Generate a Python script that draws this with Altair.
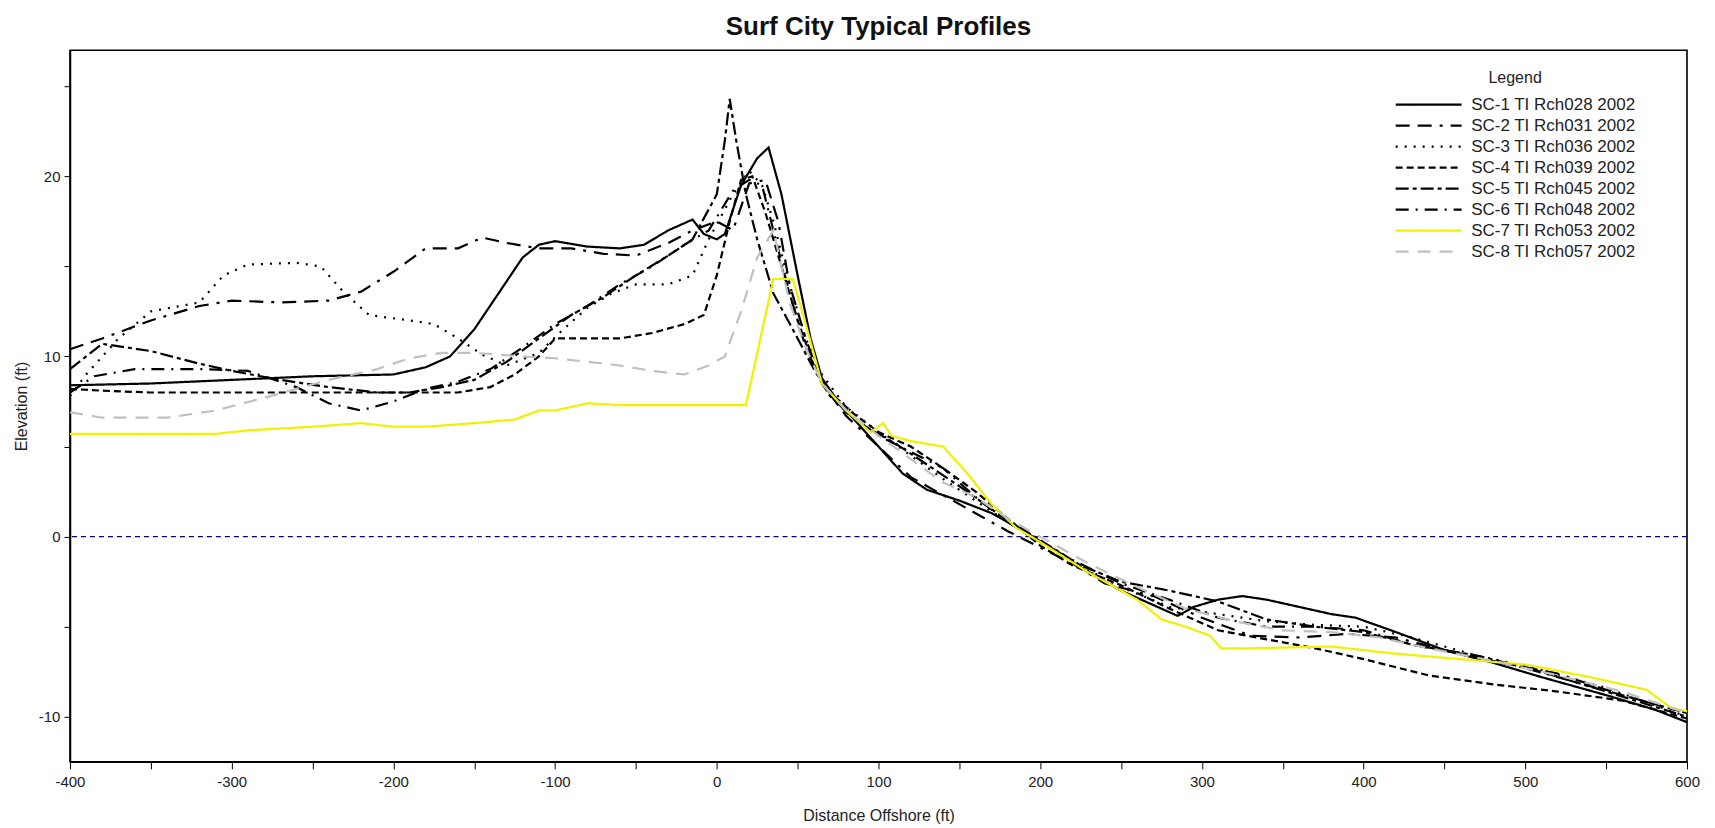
import altair as alt
import pandas as pd

SERIES = [
    "SC-1 TI Rch028 2002", "SC-2 TI Rch031 2002", "SC-3 TI Rch036 2002",
    "SC-4 TI Rch039 2002", "SC-5 TI Rch045 2002", "SC-6 TI Rch048 2002",
    "SC-7 TI Rch053 2002", "SC-8 TI Rch057 2002",
]
COLORS = ["#000000", "#000000", "#000000", "#000000", "#000000", "#000000", "#f0f000", "#c0c0c0"]
DASHES = [[1, 0], [14, 8, 14, 8, 3, 8], [2, 7], [7, 4], [13, 4, 4, 4], [13, 7, 2, 7], [1, 0], [13, 9]]

SC1_X = [-400, -350, -300, -250, -200, -180, -165, -150, -135, -120, -110, -100, -80, -60, -45, -30, -20, -15, -8, 0, 5, 15, 25, 32, 40, 50, 58, 65, 75, 90, 100, 115, 130, 150, 170, 190, 210, 230, 250, 270, 285, 295, 310, 325, 340, 360, 380, 395, 420, 450, 480, 510, 550, 580, 600]
SC1_Y = [8.4, 8.5, 8.7, 8.9, 9.0, 9.4, 10.0, 11.5, 13.5, 15.5, 16.2, 16.4, 16.1, 16.0, 16.2, 17.0, 17.4, 17.6, 16.8, 16.5, 16.8, 19.5, 21.0, 21.6, 19.0, 14.5, 11.0, 8.8, 7.5, 6.0, 5.0, 3.5, 2.6, 2.0, 1.3, 0.3, -0.8, -2.0, -3.0, -3.8, -4.4, -3.9, -3.5, -3.3, -3.5, -3.9, -4.3, -4.5, -5.3, -6.3, -7.0, -7.8, -8.8, -9.6, -10.3]

SC2_X = [-400, -380, -350, -320, -300, -270, -240, -220, -200, -180, -160, -145, -130, -110, -90, -70, -50, -30, -15, 0, 10, 20, 30, 38, 45, 55, 65, 80, 100, 120, 140, 160, 180, 200, 220, 240, 270, 300, 330, 360, 390, 420, 450, 480, 520, 560, 600]
SC2_Y = [10.4, 11.0, 12.0, 12.8, 13.1, 13.0, 13.1, 13.6, 14.7, 16.0, 16.0, 16.6, 16.3, 16.0, 16.0, 15.7, 15.6, 16.3, 17.0, 17.5, 17.0, 19.6, 19.8, 17.5, 14.0, 11.0, 8.5, 6.7, 5.0, 3.3, 2.3, 1.3, 0.3, -0.6, -1.5, -2.6, -3.3, -4.5, -5.5, -5.6, -5.4, -5.6, -6.3, -6.9, -7.6, -8.8, -9.8]

SC3_X = [-400, -390, -370, -350, -320, -305, -290, -260, -245, -230, -215, -190, -175, -160, -145, -130, -110, -95, -80, -65, -50, -30, -15, -5, 10, 20, 28, 35, 45, 55, 65, 80, 100, 120, 140, 160, 180, 200, 220, 250, 280, 310, 340, 370, 400, 430, 470, 510, 550, 600]
SC3_Y = [7.8, 9.0, 11.0, 12.5, 13.0, 14.5, 15.1, 15.2, 15.0, 13.5, 12.3, 12.0, 11.8, 11.0, 10.1, 9.5, 10.2, 11.5, 12.7, 13.5, 14.0, 14.0, 14.5, 16.5, 19.0, 20.3, 19.5, 17.5, 14.0, 11.0, 9.0, 7.2, 5.8, 4.5, 3.2, 2.0, 0.8, -0.3, -1.4, -2.8, -3.9, -4.3, -4.7, -4.9, -5.0, -5.6, -6.6, -7.4, -8.4, -10.0]

SC4_X = [-400, -380, -350, -300, -250, -200, -160, -140, -125, -110, -100, -80, -60, -40, -20, -8, 0, 8, 15, 22, 30, 40, 50, 60, 70, 85, 100, 120, 140, 160, 180, 200, 220, 250, 280, 310, 340, 370, 400, 440, 480, 520, 560, 600]
SC4_Y = [8.2, 8.1, 8.0, 8.0, 8.0, 8.0, 8.0, 8.3, 9.0, 10.0, 11.0, 11.0, 11.0, 11.3, 11.8, 12.3, 14.5, 17.5, 19.8, 20.0, 18.0, 15.0, 12.0, 9.5, 8.0, 6.8, 5.8, 5.0, 3.8, 2.5, 1.0, -0.5, -1.6, -2.7, -4.0, -5.2, -5.7, -6.2, -6.8, -7.7, -8.2, -8.6, -9.1, -10.1]

SC5_X = [-400, -380, -350, -320, -300, -270, -240, -210, -190, -170, -150, -130, -110, -90, -70, -50, -30, -15, 0, 5, 8, 12, 18, 25, 35, 50, 60, 70, 90, 110, 130, 150, 175, 200, 225, 250, 280, 310, 340, 370, 400, 430, 470, 510, 550, 600]
SC5_Y = [9.3, 10.7, 10.3, 9.6, 9.2, 8.7, 8.3, 8.0, 8.0, 8.3, 8.7, 9.7, 11.0, 12.3, 13.3, 14.5, 15.6, 16.5, 19.0, 22.0, 24.3, 22.0, 19.0, 16.5, 13.5, 11.0, 9.3, 7.8, 6.2, 5.2, 4.0, 2.8, 1.2, -0.2, -1.6, -2.5, -3.0, -3.6, -4.6, -5.0, -5.3, -6.0, -6.6, -7.5, -8.6, -10.0]

SC6_X = [-400, -385, -360, -320, -290, -260, -240, -220, -200, -180, -160, -140, -120, -100, -80, -60, -40, -20, -5, 10, 20, 28, 35, 45, 55, 65, 80, 100, 120, 140, 160, 180, 200, 220, 250, 280, 310, 340, 370, 400, 430, 460, 500, 540, 600]
SC6_Y = [8.0, 8.9, 9.3, 9.3, 9.2, 8.3, 7.4, 7.0, 7.5, 8.2, 8.6, 9.3, 10.5, 11.8, 12.8, 14.0, 15.0, 16.2, 17.0, 19.2, 19.8, 19.5, 17.0, 13.5, 10.5, 8.5, 6.9, 5.6, 4.7, 3.8, 2.2, 0.8, -0.3, -1.3, -2.6, -3.5, -4.5, -5.0, -5.0, -5.2, -6.0, -6.5, -7.3, -8.3, -9.8]

SC7_X = [-400, -310, -290, -250, -220, -200, -180, -150, -125, -110, -100, -90, -80, -60, 18, 35, 47, 55, 65, 80, 95, 103, 108, 120, 140, 155, 170, 185, 200, 230, 260, 275, 290, 305, 312, 330, 380, 420, 460, 500, 540, 575, 590, 600]
SC7_Y = [5.7, 5.7, 5.9, 6.1, 6.3, 6.1, 6.1, 6.3, 6.5, 7.0, 7.0, 7.2, 7.4, 7.3, 7.3, 14.3, 14.3, 11.8, 8.5, 7.0, 5.8, 6.3, 5.6, 5.3, 5.0, 3.5, 1.8, 0.5, -0.3, -2.0, -3.5, -4.6, -5.0, -5.5, -6.2, -6.2, -6.1, -6.5, -6.8, -7.1, -7.8, -8.5, -9.5, -9.7]

SC8_X = [-400, -380, -340, -310, -280, -260, -240, -210, -190, -170, -150, -120, -100, -80, -60, -40, -20, -5, 5, 15, 25, 35, 45, 55, 65, 80, 100, 120, 140, 160, 180, 200, 230, 260, 290, 320, 350, 380, 410, 440, 480, 520, 560, 600]
SC8_Y = [6.9, 6.6, 6.6, 7.0, 7.7, 8.2, 8.7, 9.3, 9.9, 10.2, 10.2, 10.0, 9.9, 9.7, 9.5, 9.2, 9.0, 9.5, 10.0, 12.5, 15.5, 17.0, 13.0, 10.5, 8.5, 7.0, 5.6, 4.3, 3.0, 2.2, 1.0, 0.0, -1.5, -2.8, -4.0, -4.7, -5.2, -5.3, -5.6, -6.2, -6.9, -7.7, -8.6, -9.8]

X_LISTS = [SC1_X, SC2_X, SC3_X, SC4_X, SC5_X, SC6_X, SC7_X, SC8_X]
Y_LISTS = [SC1_Y, SC2_Y, SC3_Y, SC4_Y, SC5_Y, SC6_Y, SC7_Y, SC8_Y]

rows = []
for i, (name, xs, ys) in enumerate(zip(SERIES, X_LISTS, Y_LISTS)):
    for x, y in zip(xs, ys):
        rows.append({"series": name, "order": i, "dist": x, "elev": y})
df = pd.DataFrame(rows)

X_TICKS = list(range(-400, 601, 50))
Y_TICKS = [-10, -5, 0, 5, 10, 15, 20, 25]
FONT = "Liberation Sans"
TXT = "#222222"

legend = alt.Legend(
    title="Legend", orient="none", legendX=1325, legendY=20,
    symbolType="stroke", symbolSize=4356, symbolStrokeWidth=2.2,
    labelFontSize=17, titleFontSize=16, titleFontWeight="normal",
    titleAnchor="middle", labelFont=FONT, titleFont=FONT,
    labelColor=TXT, titleColor=TXT, labelOffset=8, labelLimit=400,
    clipHeight=21, rowPadding=0, titlePadding=8,
)

x_enc = alt.X("dist:Q", scale=alt.Scale(domain=[-400, 600], nice=False, zero=False),
              axis=alt.Axis(title="Distance Offshore (ft)", values=X_TICKS,
                            labelExpr="datum.value % 100 == 0 ? '' + datum.value : ''",
                            labelFlush=False, grid=False, tickSize=7, labelPadding=6, titlePadding=18,
                            labelFontSize=15, titleFontSize=16, titleFontWeight="normal",
                            labelFont=FONT, titleFont=FONT, labelColor=TXT, titleColor=TXT,
                            domainColor="#000000", domainWidth=1.6, tickColor="#000000"))
y_enc = alt.Y("elev:Q", scale=alt.Scale(domain=[-12.5, 27], nice=False, zero=False),
              axis=alt.Axis(title="Elevation (ft)", values=Y_TICKS,
                            labelExpr="datum.value % 10 == 0 ? '' + datum.value : ''",
                            grid=False, tickSize=6, labelPadding=4, titlePadding=9,
                            labelFontSize=15, titleFontSize=16, titleFontWeight="normal",
                            labelFont=FONT, titleFont=FONT, labelColor=TXT, titleColor=TXT,
                            domainColor="#000000", domainWidth=1.6, tickColor="#000000"))

lines = alt.Chart(df).mark_line(strokeWidth=2.2).encode(
    x=x_enc,
    y=y_enc,
    color=alt.Color("series:N", scale=alt.Scale(domain=SERIES, range=COLORS), legend=legend),
    strokeDash=alt.StrokeDash("series:N", scale=alt.Scale(domain=SERIES, range=DASHES), legend=legend),
    detail="series:N",
)

zero = alt.Chart(pd.DataFrame({"elev": [0]})).mark_rule(
    color="#000080", strokeDash=[5, 4], strokeWidth=1.2
).encode(y="elev:Q")

chart = alt.layer(zero, lines).properties(
    width=1618, height=712,
    autosize=alt.AutoSizeParams(type="none"),
    padding={"left": 62, "top": 42, "right": 20, "bottom": 66},
    title=alt.TitleParams("Surf City Typical Profiles", font=FONT, fontSize=26,
                          fontWeight="bold", color="#111111", offset=10, anchor="middle"),
).configure_view(stroke="#000000", strokeWidth=1.6)

chart.save("out.html", embed_options={"renderer": "svg", "actions": False})
